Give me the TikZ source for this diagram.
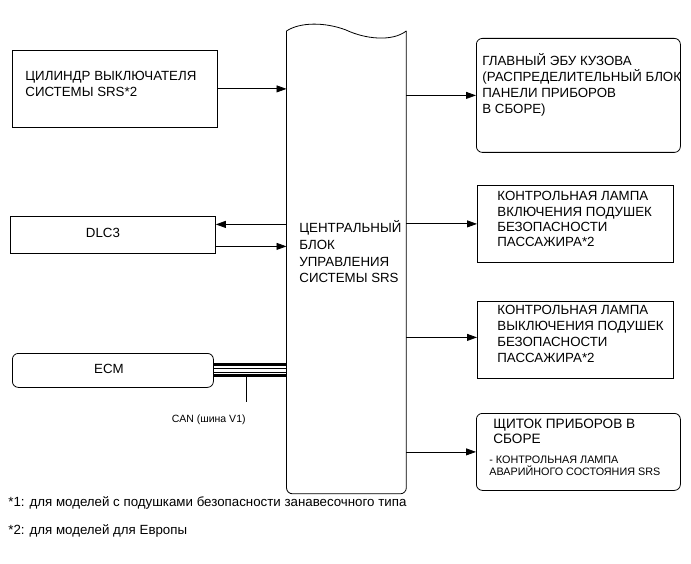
\documentclass[tikz,border=0pt]{standalone}
\usepackage{fontspec}
\setmainfont{Liberation Sans}
\usetikzlibrary{arrows.meta,calc}
\begin{document}
\begin{tikzpicture}[x=1pt,y=-1pt,line width=0.8pt,
  box/.style={draw,inner sep=0pt,anchor=north west},
  rbox/.style={box,rounded corners=6pt},
  arr/.style={-{Triangle[length=10pt,width=7pt]}},
  txt/.style={inner sep=0pt,anchor=base west,align=left,font=\fontsize{13.3}{16}\selectfont},
  small/.style={inner sep=0pt,anchor=base west,align=left,font=\fontsize{10.8}{12}\selectfont},
  note/.style={inner sep=0pt,anchor=base west,font=\fontsize{13.3}{15}\selectfont},
  bus/.style={line width=3pt},
  thin/.style={line width=0.8pt}]
\useasboundingbox (0,0) rectangle (691,564);
% boxes
\node[box,minimum width=205pt,minimum height=77pt] (cyl) at (12,50) {};
\node[box,minimum width=205pt,minimum height=37pt] (dlc) at (10,216) {};
\node[rbox,minimum width=201pt,minimum height=34pt] (ecm) at (12,353) {};
\node[rbox,minimum width=204pt,minimum height=114pt] (ecu) at (476,38) {};
\node[box,minimum width=196pt,minimum height=77pt] (lamp1) at (477,185) {};
\node[box,minimum width=196pt,minimum height=77pt] (lamp2) at (477,301) {};
\node[rbox,minimum width=204pt,minimum height=77pt] (clu) at (476,413) {};
% central block
\node[inner sep=0pt,minimum width=119pt,minimum height=462pt,anchor=north west] (cb) at (286.5,31) {};
\draw[rounded corners=6pt] (cb.north west) -- (cb.south west) -- (cb.south east) -- (cb.north east);
\draw (cb.north west) .. controls ($(cb.north west)+(13.5,-9)$) and ($(cb.north west)+(38.5,-9)$) .. ($(cb.north west)+(59.5,-1)$)
      .. controls ($(cb.north west)+(78.5,8)$) and ($(cb.north west)+(105.5,11)$) .. (cb.north east);
% texts (base anchor = baseline of last line)
\node[txt] (tcyl) at (25,97) {ЦИЛИНДР ВЫКЛЮЧАТЕЛЯ\\СИСТЕМЫ SRS*2};
\node[txt,anchor=center] (tdlc) at (103,232.5) {DLC3};
\node[txt,anchor=center] (tecm) at (109,369) {ECM};
\node[txt,font=\fontsize{13.3}{16.7}\selectfont] (tcb) at (299,283) {ЦЕНТРАЛЬНЫЙ\\БЛОК\\УПРАВЛЕНИЯ\\СИСТЕМЫ SRS};
\node[txt] (tecu) at (482,114) {ГЛАВНЫЙ ЭБУ КУЗОВА\\(РАСПРЕДЕЛИТЕЛЬНЫЙ БЛОК\\ПАНЕЛИ ПРИБОРОВ\\В СБОРЕ)};
\node[txt,font=\fontsize{13.3}{15.4}\selectfont] (tl1) at (497,247) {КОНТРОЛЬНАЯ ЛАМПА\\ВКЛЮЧЕНИЯ ПОДУШЕК\\БЕЗОПАСНОСТИ\\ПАССАЖИРА*2};
\node[txt,font=\fontsize{13.3}{15.7}\selectfont] (tl2) at (497,362) {КОНТРОЛЬНАЯ ЛАМПА\\ВЫКЛЮЧЕНИЯ ПОДУШЕК\\БЕЗОПАСНОСТИ\\ПАССАЖИРА*2};
\node[txt,font=\fontsize{13.6}{15}\selectfont] (tclu) at (493,443) {ЩИТОК ПРИБОРОВ В\\СБОРЕ};
\node[small] (tclu2) at (489,475) {- КОНТРОЛЬНАЯ ЛАМПА\\АВАРИЙНОГО СОСТОЯНИЯ SRS};
\node[note] (n1) at (8,506) {*1: для моделей с подушками безопасности занавесочного типа};
\node[note] (n2) at (8,534) {*2: для моделей для Европы};
% connectors
\draw[arr] (cyl.east) -- (cyl.east -| cb.west);
\draw[arr] (ecu.west -| cb.east) -- (ecu.west);
\draw[arr] ($(dlc.east -| cb.west)+(0,-10.5)$) -- ($(dlc.east)+(0,-10.5)$);
\draw[arr] ($(dlc.east)+(0,11.5)$) -- ($(dlc.east -| cb.west)+(0,11.5)$);
\draw[arr] (lamp1.west -| cb.east) -- (lamp1.west);
\draw[arr] ($(lamp2.west -| cb.east)+(0,-2.5)$) -- ($(lamp2.west)+(0,-2.5)$);
\draw[arr] (clu.west -| cb.east) -- (clu.west);
% CAN bus
\draw[bus] ($(ecm.east)+(0,-5.5)$) -- ($(ecm.east -| cb.west)+(0,-5.5)$);
\draw[thin] ($(ecm.east)+(0,-2)$) -- ($(ecm.east -| cb.west)+(0,-2)$);
\draw[thin] ($(ecm.east)+(0,1.5)$) -- ($(ecm.east -| cb.west)+(0,1.5)$);
\draw[bus] ($(ecm.east)+(0,5.5)$) -- ($(ecm.east -| cb.west)+(0,5.5)$);
\coordinate (cantap) at (246,377);
\coordinate (canend) at (246,402);
\draw (cantap) -- (canend);
\node[txt,anchor=base east,font=\fontsize{10.5}{12}\selectfont] (tcan) at (246,422) {CAN (шина V1)};
\end{tikzpicture}
\end{document}
